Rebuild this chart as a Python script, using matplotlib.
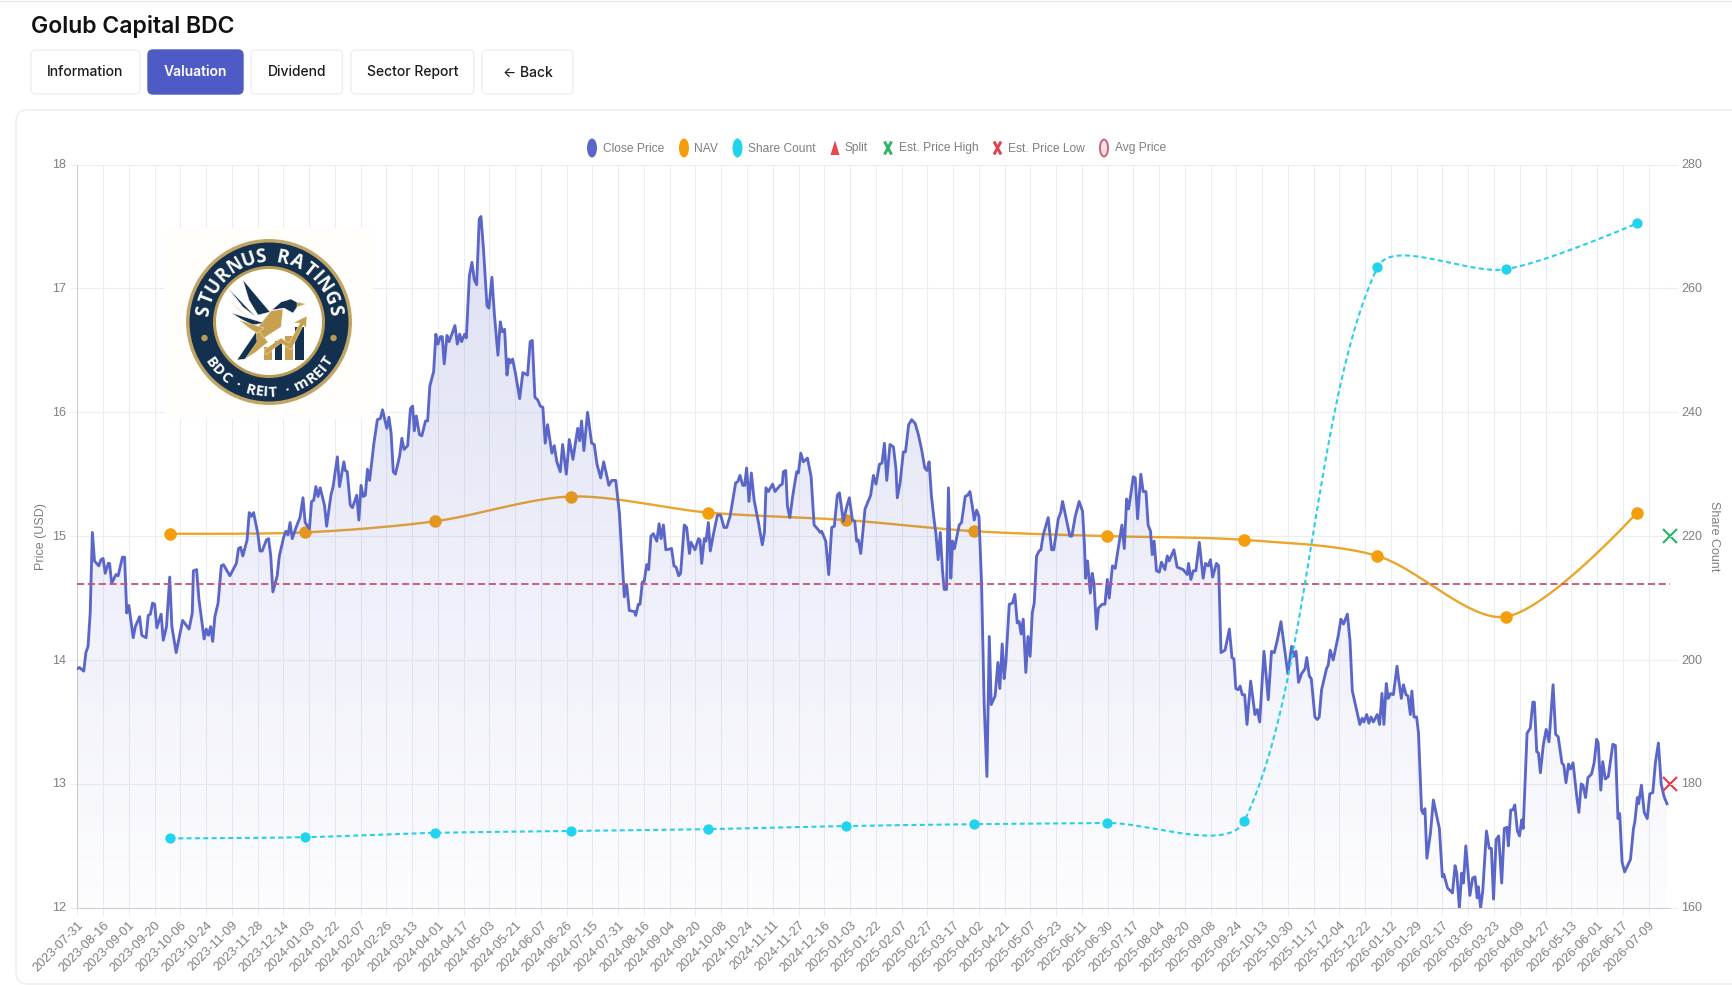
import numpy as np
import matplotlib
matplotlib.use("Agg")
import matplotlib.pyplot as plt
from matplotlib.patches import FancyBboxPatch, Ellipse, Circle, Polygon, Rectangle
from matplotlib.colors import to_rgb
from matplotlib.font_manager import FontProperties
from matplotlib.textpath import TextPath
from matplotlib.transforms import ScaledTranslation

# trading day position on the category axis / close price in USD
close_idx = [
    0, 1, 3, 4, 5, 6, 7, 8, 10, 11, 12, 13, 14.4, 15, 16, 18, 19, 21, 22, 23, 24, 26, 27, 29, 30, 32, 33, 34, 35, 36,
    37, 39, 40, 41.5, 43, 44, 46, 49, 52, 53.5, 54, 55.5, 56.6, 58, 59, 60, 61, 62, 63, 64, 65.5, 67, 68, 71, 74, 75,
    76, 77, 79, 80, 81, 82, 84, 85, 86, 88, 89, 90, 91, 93, 94, 96, 97, 98, 99, 100, 102, 103.6, 105, 106, 108, 109,
    110, 111, 112, 113, 115, 116, 118, 119, 121, 122, 124, 124.7, 125.6, 127, 128, 130, 131, 132, 133, 134, 135, 136,
    138, 139.6, 141, 142, 144, 145, 146, 147, 148,
    150, 151, 152, 153.7, 155, 156, 156.8, 157.7, 159.2, 160.3, 162, 163, 164, 165.8, 166.8, 167.8, 168.9, 169.8,
    170.7, 172, 173, 175.7, 176.8, 177.9, 178.8, 180.2, 181, 182.4, 183.6, 184.7, 185.8, 187, 187.8, 189, 190.6,
    191.5, 192.9, 194, 195.7, 196.8, 197.7, 198.8, 199.9, 200.8, 201.6, 202.5, 203.8, 205.8, 207.3, 209.5, 210.7,
    211.7, 212.9, 214.2, 215.4, 216.6, 217.7, 218.8, 220.8, 221.9, 223.1, 224.7, 225.8, 227.5, 228.9, 230.6, 232.8,
    233.7, 234.6, 235.7, 237.4, 239.3, 240.5, 241.8, 243.5, 244.9, 247.3, 248.7, 250.5,
    252.2, 253.3, 254.5, 255.6, 256.8, 259.3, 259.8, 261, 261.8, 262.9, 263.7, 264.9, 265.8, 266.9, 268, 269.6,
    270.7, 271.6, 272.7, 273.8, 276.5, 277.6, 278.6, 279.8, 280.7, 282.4, 283.5, 284.8, 285.5, 287.4, 289, 289.7,
    290.5, 291.7, 292.5, 293.6, 294.5, 295.9, 297.8, 299.3, 300.9, 302.1, 303.7, 306.3, 307.3, 308.3, 309.6, 310.5,
    311.4, 312.5, 313.6, 314.9, 316.9, 318.7, 319.7, 320.4, 321.5, 323.5, 324.6, 327, 328, 328.5, 329.6, 330.4,
    331.5, 332.9, 334.7, 335.5, 336.6, 337.8, 339.7, 341.4, 342.8, 344.8, 345.6, 346.3, 348.2, 349.6, 351, 352.2,
    353.6, 354.6, 356.4, 358, 359.2, 360.6, 361.7, 362.6, 363.4, 364.5, 366.5, 369.1, 370.4, 371.6, 373.2, 374.4,
    375.5, 376.6, 378.1, 379.7, 380.9, 381.5, 382.8, 384.3, 385.3, 386.8, 388.2, 389.8, 391.3, 392.8,
    394.3, 395.3, 396.3, 397.4, 398.7, 399.4, 400.5, 401.5, 402.5, 403.3, 404.4, 405.3, 406.4, 407.2, 408.1, 410.3,
    411.4, 413.1, 414.2, 415.3, 416.5, 417.3, 418.4, 419.5, 420.7, 421.9, 423.2, 424.3, 425.2, 427, 428.3, 429.2,
    430.3, 431.2, 432, 433.6, 435.1, 436.2, 437.3, 438.2, 439.1, 440.1, 441.3, 442.3, 443.3, 444.3, 445.2, 446.3,
    447.5, 448.3, 449.4, 451.7, 453.3, 454.3, 456.4, 457.5, 458.4, 460.2, 461.8, 462.7, 464.3, 466.1, 467.7, 468.6,
    469.1, 470, 471.3, 472.2, 473, 474.2, 475.1, 476.8, 478.1, 479.2, 480.1, 481.6, 482.9, 484.1, 486, 487.1, 488.2,
    489.1, 490, 491.3, 492.2, 493.3, 494.8, 495.9, 497.2, 498.2, 499.3, 500.1, 501, 502.1, 503.4, 504.4, 506, 507.1,
    508, 510.2, 511.7, 514.5, 516.4, 517, 518.1, 519.2, 520.4, 522, 523.8, 524.9, 526.2, 527.2, 528.2, 530, 531,
    532.1, 534, 536, 537.2, 538.1, 539, 540.1, 541, 542, 543.1, 544.2, 545.9, 547.9, 549, 550.1, 552.1, 554.1, 555.6,
    556.9, 558.3, 560, 561.5, 563.2, 565, 565.9, 567, 568.2, 569.6, 571.2, 572, 573.2, 574.1, 575.8, 576.9, 577.8,
    578.9, 581.2, 582, 582.9, 584.3, 586.7, 587.9, 589.1, 590.9, 592.1, 593.2, 596.7, 597.8, 598.6, 599.9, 600.9,
    601.9, 603, 604.8, 605.9, 607, 607.9, 609, 609.9, 611, 612.3, 614, 614.7, 616, 617, 618.2, 619.1, 620.2, 620.9,
    621.9, 623.1, 624, 625.4, 626.2, 627, 627.9, 629.6, 630.9, 633.7, 635.1,
    635.8, 637.5, 639.8, 641, 641.8, 643, 644.1, 644.9, 646, 647.9, 649.2, 650.3, 651.3, 651.8, 652.9, 653.9, 655.6,
    656.9, 657.9, 658.9, 660.1, 661.3, 662.7, 663.9, 665.1, 665.8, 666.9, 667.9, 668.8, 670, 671, 672, 672.7, 674.5,
    676, 677.2, 677.9, 679, 679.8, 680.7, 682.1, 683.4, 684.7, 686.6, 687.8, 689, 690.7, 691.6, 692.6, 693.8, 694.7,
    695.9, 697.6, 698.6, 699.7, 700.5, 701.7, 702.8, 704.5, 705.7, 706.9, 707.6, 708.8, 709.7, 710.9, 712.3, 714.4,
    715.6, 716.8, 717.6, 718.7, 719.9, 722.6, 724, 724.7, 725.8, 726.4, 727.7, 729, 730.4, 731.6, 733, 734.2, 735.6,
    736.9, 738.2, 739.6,
]
close_price = [
    13.93, 13.94, 13.91, 14.06, 14.11, 14.38, 15.03, 14.80, 14.76, 14.81, 14.82, 14.70, 14.78, 14.78, 14.62, 14.69,
    14.68, 14.83, 14.83, 14.38, 14.44, 14.18, 14.27, 14.35, 14.20, 14.18, 14.36, 14.37, 14.46, 14.45,
    14.26, 14.37, 14.16, 14.27, 14.67, 14.27, 14.06, 14.32, 14.25, 14.38, 14.72, 14.73, 14.49, 14.30, 14.17, 14.25,
    14.20, 14.27, 14.15, 14.35, 14.46, 14.76, 14.77, 14.68, 14.78, 14.90,
    14.91, 14.84, 14.97, 15.19, 15.16, 15.19, 15.02, 14.88, 14.88, 14.97, 14.98, 14.84, 14.55, 14.68, 14.84, 14.99,
    15.04, 15.01, 15.11, 14.98, 15.08, 15.15, 15.31, 15.11, 15.06, 15.28,
    15.29, 15.40, 15.32, 15.39, 15.25, 15.08, 15.33, 15.40, 15.64, 15.40, 15.60, 15.53, 15.52, 15.25, 15.23, 15.33,
    15.13, 15.41, 15.32, 15.33, 15.54, 15.45,
    15.75, 15.94, 15.95, 16.02, 15.87, 15.96, 15.83, 15.52, 15.50,
    15.65, 15.79, 15.70, 15.73, 16.03, 16.05, 15.85, 15.97, 15.82, 15.81, 15.93, 15.93, 16.21, 16.33, 16.63, 16.55,
    16.61, 16.61,
    16.39, 16.62, 16.57, 16.70, 16.55, 16.63, 16.57, 16.63, 16.60, 17.10, 17.21, 17.07, 17.03, 17.56, 17.58, 17.31,
    16.86, 16.84, 17.09, 16.80, 16.46, 16.73, 16.65, 16.67, 16.30, 16.43, 16.40, 16.43, 16.32, 16.11, 16.32, 16.30,
    16.57, 16.58, 16.12, 16.10, 16.05, 16.04, 15.75, 15.90, 15.67, 15.73, 15.60, 15.52, 15.74, 15.50, 15.78, 15.62,
    15.87, 15.77, 15.93, 15.69, 16.00, 15.75, 15.74, 15.58, 15.47, 15.60, 15.41, 15.45, 15.45,
    15.19, 14.86, 14.51, 14.61, 14.40, 14.39, 14.36, 14.45, 14.45, 14.63, 14.63, 14.77, 14.73, 15.00, 15.02, 14.96,
    15.10, 14.98, 15.09, 14.89, 14.90, 14.76, 14.75, 14.68, 14.70, 15.09, 15.07, 14.86, 14.95, 14.89, 14.98, 14.97,
    14.78, 14.98, 14.96, 15.11, 14.88, 15.01, 15.17, 15.17, 15.07, 15.07, 15.16, 15.43, 15.44, 15.49, 15.41, 15.41,
    15.55, 15.28, 15.51, 15.29, 15.11, 14.93, 15.03, 15.39, 15.36, 15.42, 15.36, 15.41, 15.42, 15.52, 15.53, 15.24,
    15.15, 15.33, 15.52, 15.51, 15.67, 15.60, 15.63, 15.48, 15.09, 15.05, 15.03, 15.04, 14.96, 14.69, 15.07, 15.08,
    15.33, 15.35, 15.12, 15.24, 15.31, 15.13, 15.12, 14.96, 14.97, 14.86, 15.22, 15.33, 15.49, 15.42, 15.58, 15.59,
    15.75, 15.45, 15.74, 15.72, 15.54, 15.31, 15.43, 15.68, 15.68, 15.90, 15.94, 15.91, 15.82, 15.70,
    15.55, 15.53, 15.60, 15.32, 15.12, 15.03, 14.81, 15.03, 14.73, 14.57, 14.57, 15.39, 14.66, 14.96, 14.90, 15.09,
    15.11, 15.32, 15.33, 15.36, 15.23, 15.13, 15.21, 15.16, 14.62, 13.65, 13.06, 14.19, 13.64, 13.71, 13.98, 13.77,
    14.13, 13.85, 13.98, 14.45, 14.46, 14.53, 14.30, 14.31, 14.21, 14.33, 13.90, 14.19, 14.03, 14.38, 14.46, 14.84,
    14.88, 14.89, 15.01, 15.15, 14.89, 14.89, 15.14, 15.19, 15.28, 15.13, 15.00, 15.00, 15.16, 15.28, 15.20, 14.92,
    14.66, 14.80, 14.54, 14.70, 14.62, 14.25, 14.42, 14.45, 14.45, 14.65, 14.50, 14.76, 14.74, 14.88, 15.09, 14.90,
    15.30, 15.22, 15.32, 15.48, 15.47, 15.14, 15.50, 15.36, 15.36, 15.09, 15.04, 14.85, 14.96, 14.72, 14.71, 14.79,
    14.73, 14.84,
    14.80, 14.89, 14.75, 14.73, 14.69, 14.78, 14.65, 14.72, 14.72, 14.95, 14.66, 14.78, 14.76, 14.81, 14.67, 14.78,
    14.76,
    14.06, 14.08, 14.25, 14.02, 14.01, 13.77, 13.76, 13.79, 13.72, 13.72, 13.48, 13.83, 13.56, 13.60, 13.50, 14.07,
    13.68, 14.07,
    14.06, 14.16, 14.31, 14.11, 13.89, 14.11, 14.03, 14.07, 13.82, 13.89, 13.93, 14.02, 13.87, 13.85, 13.54, 13.52,
    13.54,
    13.76, 13.93, 13.96, 14.08, 14.00, 14.20, 14.33, 14.29, 14.37, 14.16, 13.75, 13.48, 13.53, 13.50, 13.56, 13.49,
    13.54, 13.50, 13.56, 13.48, 13.73, 13.48, 13.81, 13.69, 13.73, 13.72, 13.95, 13.85, 13.69, 13.80, 13.72, 13.71,
    13.56, 13.75,
    13.54, 13.54, 13.41, 12.79, 12.76, 12.80, 12.40, 12.61, 12.87, 12.64, 12.25,
    12.27, 12.16, 12.12, 12.34, 12.28, 12.00, 12.28, 12.20, 12.50, 12.10, 12.24, 12.25, 12.08, 12.17, 12.00, 12.14,
    12.62,
    12.48, 12.48, 12.07, 12.55, 12.58, 12.20, 12.64, 12.65, 12.50, 12.79, 12.79, 12.83, 12.62, 12.58, 12.71, 12.64,
    13.41,
    13.45, 13.66, 13.66, 13.26, 13.25, 13.09, 13.32, 13.44, 13.34, 13.80, 13.40, 13.38, 13.17, 13.15, 13.01, 13.16,
    13.12,
    13.17, 12.90, 12.77, 13.00, 12.99, 12.89, 13.05, 13.08, 13.17, 13.36, 13.33, 12.95, 13.18, 13.04, 13.06, 13.32,
    13.31, 12.72, 12.76, 12.37, 12.29, 12.39, 12.64, 12.70, 12.89, 12.84, 12.99, 12.77, 12.72, 12.92, 12.93, 13.17,
    13.33,
    13.00, 12.90, 12.84,
]

nav_idx = [43.1, 105.9, 166.5, 229.7, 293.6, 357.5, 417.1, 479.2, 543, 604.9, 664.8, 725.7]
nav_value = [15.02, 15.03, 15.12, 15.32, 15.19, 15.13, 15.04, 15.00, 14.97, 14.84, 14.35, 15.19]
share_count = [171.2, 171.4, 172.1, 172.4, 172.7, 173.2, 173.5, 173.7, 174.05, 263.4, 263.1, 270.5]

avg_price = 14.61
est_high = 15.0
est_low = 13.0

date_labels = [
    "2023-07-31", "2023-08-16", "2023-09-01", "2023-09-20", "2023-10-06", "2023-10-24", "2023-11-09", "2023-11-28",
    "2023-12-14", "2024-01-03", "2024-01-22", "2024-02-07", "2024-02-26", "2024-03-13", "2024-04-01", "2024-04-17",
    "2024-05-03", "2024-05-21", "2024-06-07", "2024-06-26", "2024-07-15", "2024-07-31", "2024-08-16", "2024-09-04",
    "2024-09-20", "2024-10-08", "2024-10-24", "2024-11-11", "2024-11-27", "2024-12-16", "2025-01-03", "2025-01-22",
    "2025-02-07", "2025-02-27", "2025-03-17", "2025-04-02", "2025-04-21", "2025-05-07", "2025-05-23", "2025-06-11",
    "2025-06-30", "2025-07-17", "2025-08-04", "2025-08-20", "2025-09-08", "2025-09-24", "2025-10-13", "2025-10-30",
    "2025-11-17", "2025-12-04", "2025-12-22", "2026-01-12", "2026-01-29", "2026-02-17", "2026-03-05", "2026-03-23",
    "2026-04-09", "2026-04-27", "2026-05-13", "2026-06-01", "2026-06-17", "2026-07-09",
]
price_ticks = [12, 13, 14, 15, 16, 17, 18]
share_ticks = [160, 180, 200, 220, 240, 260, 280]
button_labels = ["Information", "Valuation", "Dividend", "Sector Report", "\u2190 Back"]
legend_labels = ["Close Price", "NAV", "Share Count", "Split", "Est. Price High", "Est. Price Low", "Avg Price"]

W, H = 1732, 985
BLUE = "#5b66c9"
ORANGE = "#f59e0b"
CYAN = "#22d3ee"
GRAY = "#7f7f7f"
GRID = "#ecedf1"
NAVY = "#14304f"
GOLD = "#b99a55"

plt.rcParams["font.family"] = ["Liberation Sans", "DejaVu Sans"]
plt.rcParams["lines.scale_dashes"] = False

fig = plt.figure(figsize=(W / 100, H / 100), dpi=100, facecolor="white")


def px_axes(zorder):
    a = fig.add_axes([0, 0, 1, 1], zorder=zorder)
    a.set_xlim(0, W)
    a.set_ylim(H, 0)
    a.axis("off")
    a.patch.set_alpha(0)
    return a


# page furniture
back = px_axes(0)
back.plot([0, W], [0.5, 0.5], color="#e8e8e8", lw=1)
back.add_patch(FancyBboxPatch((16, 110), W + 40, 874, boxstyle="round,pad=0,rounding_size=12",
                              fc="white", ec="#ececec", lw=1))
back.text(31, 33.5, "Golub Capital BDC", family="Inter", weight="semibold", fontsize=16.6, color="#111111",
          va="baseline", ha="left")
btn_left = [31, 148, 251, 351, 482]
btn_right = [140, 243, 342.5, 474, 573]
for i, lab in enumerate(button_labels):
    on = lab == "Valuation"
    back.add_patch(FancyBboxPatch((btn_left[i], 50), btn_right[i] - btn_left[i], 44,
                                  boxstyle="round,pad=0,rounding_size=5", fc="#4f5bc4" if on else "white",
                                  ec="#4f5bc4" if on else "#efefef", lw=1))
    back.text((btn_left[i] + btn_right[i]) / 2, 76 if i < 4 else 77, lab, family=["Inter", "DejaVu Sans"],
              weight="semibold" if on else "medium", fontsize=10, color="white" if on else "#1c1c1c",
              ha="center", va="baseline")

# legend row
leg_y = 148
for x, c in [(592, "#5b66c9"), (684, ORANGE), (737.5, CYAN)]:
    back.add_patch(Ellipse((x, leg_y), 10, 19, fc=c, ec="none"))
back.add_patch(Polygon([[835, 140.5], [839.5, 155], [830.5, 155]], fc="#e5484d", ec="none"))
for x, c in [(888, "#2fb56a"), (997.5, "#dd4450")]:
    back.plot([x - 3.5, x + 3.5], [leg_y - 6.5, leg_y + 6.5], color=c, lw=2.1, solid_capstyle="butt")
    back.plot([x - 3.5, x + 3.5], [leg_y + 6.5, leg_y - 6.5], color=c, lw=2.1, solid_capstyle="butt")
back.add_patch(Ellipse((1104, leg_y), 8, 17, fc="#f3e3e6", ec="#d2566f", lw=1.3))
for x, lab in zip([603, 694, 748, 845, 899, 1008, 1115], legend_labels):
    back.text(x, leg_y + 0.5, lab, color=GRAY, fontsize=8.65, ha="left", va="center")

# chart
ax_top, ax_bot = 164.5, 907.8
ax = fig.add_axes([77.3 / W, 1 - ax_bot / H, 1592.7 / W, (ax_bot - ax_top) / H], zorder=1)
ax.patch.set_alpha(0)
ax2 = ax.twinx()
ax2.set_zorder(2)
ax2.patch.set_alpha(0)

x_stretch = 742 / 741
x_close = np.array(close_idx) * x_stretch
y_close = np.array(close_price)
ax.set_xlim(0, 742)
ax.set_ylim(12, 18)
ax2.set_ylim(160, 280)

ax.set_xticks(np.arange(len(date_labels)) * 12)
ax.set_xticklabels(date_labels, rotation=45, ha="right", rotation_mode="anchor", fontsize=9.2, color=GRAY)
ax.set_yticks(price_ticks)
ax.set_yticklabels(price_ticks, fontsize=9, color=GRAY)
ax2.set_yticks(share_ticks)
ax2.set_yticklabels(share_ticks, fontsize=9, color=GRAY)
ax.tick_params(axis="x", length=5, width=0.8, color=GRID, pad=3)
ax.tick_params(axis="y", length=5, width=0.8, color=GRID, pad=3)
ax2.tick_params(axis="y", length=5, width=0.8, color=GRID, pad=3)
lift = ScaledTranslation(0, 1 / 100, fig.dpi_scale_trans)
for lbl in ax.get_yticklabels() + ax2.get_yticklabels():
    lbl.set_transform(lbl.get_transform() + lift)
ax.grid(True, color=GRID, lw=0.8, zorder=0)
ax.set_axisbelow(True)
ax.axvline(742, color=GRID, lw=0.8, zorder=0)
for s in ["top", "right"]:
    ax.spines[s].set_visible(False)
    ax2.spines[s].set_visible(False)
for a in [ax, ax2]:
    a.spines["left"].set_color("#cfcfcf")
    a.spines["bottom"].set_color("#cfcfcf")
ax2.spines["left"].set_visible(False)
ax2.spines["bottom"].set_visible(False)
ax.set_ylabel("Price (USD)", fontsize=9, color=GRAY, va="center")
ax.yaxis.set_label_coords((41 - 77.3) / 1592.7, 0.5)
ax2.set_ylabel("Share Count", fontsize=9, color=GRAY, rotation=270, va="center")
ax2.yaxis.set_label_coords((1714 - 77.3) / 1592.7, 0.5)


def smooth_curve(xs, ys, a, k=0.3):
    # bezier through the points, control arms split by on-screen segment length
    p = a.transData.transform(np.column_stack([xs, ys]))
    out = []
    for i in range(len(p) - 1):
        p0, p3 = p[i], p[i + 1]
        if i == 0:
            c1 = p0
        else:
            l0 = np.hypot(*(p[i] - p[i - 1]))
            l1 = np.hypot(*(p[i + 1] - p[i]))
            c1 = p0 + (p[i + 1] - p[i - 1]) * k * l1 / (l0 + l1)
        if i == len(p) - 2:
            c2 = p3
        else:
            l0 = np.hypot(*(p[i + 1] - p[i]))
            l1 = np.hypot(*(p[i + 2] - p[i + 1]))
            c2 = p3 - (p[i + 2] - p[i]) * k * l0 / (l0 + l1)
        t = np.linspace(0, 1, 40)[:, None]
        out.append((1 - t) ** 3 * p0 + 3 * (1 - t) ** 2 * t * c1 + 3 * (1 - t) * t ** 2 * c2 + t ** 3 * p3)
    return a.transData.inverted().transform(np.vstack(out))


x_nav = np.array(nav_idx) * x_stretch
nav_curve = smooth_curve(x_nav, nav_value, ax)
ax.plot(nav_curve[:, 0], nav_curve[:, 1], color="#eaa52b", lw=1.7, zorder=2, solid_capstyle="round")
ax.plot(x_nav, nav_value, "o", color=ORANGE, ms=9, mew=0, zorder=2)

# gradient under the close line
rgb = to_rgb("#5b65c8")
alpha = np.linspace(0.2, 0.015, 256)
grad = np.zeros((256, 1, 4))
grad[:, 0, :3] = rgb
grad[:, 0, 3] = alpha
im = ax.imshow(grad, extent=[0, 742, 12, y_close.max()], origin="upper", aspect="auto", zorder=3,
               interpolation="bilinear")
poly = Polygon(np.vstack([[x_close[0], 12], np.column_stack([x_close, y_close]), [x_close[-1], 12]]),
               transform=ax.transData, fc="none", ec="none")
ax.add_patch(poly)
im.set_clip_path(poly)
ax.set_xlim(0, 742)
ax.set_ylim(12, 18)
ax.plot(x_close, y_close, color=BLUE, lw=2.05, zorder=4, solid_joinstyle="round")

ax.plot([0, 742], [avg_price, avg_price], color="#c2557c", lw=1.3, dashes=(5.2, 2.6), zorder=5)
ax.plot([742], [est_high], marker="x", color="#2fb56a", ms=10.5, mew=1.6, clip_on=False, zorder=6)
ax.plot([742], [est_low], marker="x", color="#e0454f", ms=10.5, mew=1.6, clip_on=False, zorder=6)

share_curve = smooth_curve(x_nav, share_count, ax2)
ax2.plot(share_curve[:, 0], share_curve[:, 1], color="#27cfe9", lw=1.5, dashes=(3.6, 2.4), zorder=3)
ax2.plot(x_nav, share_count, "o", color=CYAN, ms=7.4, mew=0, zorder=4)
ax2.set_xlim(0, 742)

# logo badge on top of the chart
logo = px_axes(3)
logo.add_patch(Rectangle((165, 228), 208, 191, fc="#fffefb", ec="none"))
cx, cy = 269, 322
logo.add_patch(Circle((cx, cy), 83, fc="#c1a566", ec="none"))
logo.add_patch(Circle((cx, cy), 79.5, fc=NAVY, ec="none"))
logo.add_patch(Circle((cx, cy), 56, fc=GOLD, ec="none"))
logo.add_patch(Circle((cx, cy), 53, fc="white", ec="none"))


def arc_text(s, r, start, end, size, weight):
    # letters set along a circle, spaced so the string fills start..end degrees
    prop = FontProperties(family="Open Sans", weight=weight)
    px = size * 100 / 72
    widths = []
    for ch in s:
        widths.append(px * 0.3 if ch == " " else TextPath((0, 0), ch, size=px, prop=prop).get_extents().width)
    direction = 1 if end > start else -1
    span = np.radians(abs(end - start)) * r
    gap = (span - sum(widths) + widths[0] / 2 + widths[-1] / 2) / (len(s) - 1)
    pos = -widths[0] / 2
    for ch, w in zip(s, widths):
        ang = np.radians(start) + direction * (pos + w / 2) / r
        pos += w + gap
        x = cx + r * np.sin(ang)
        y = cy - r * np.cos(ang)
        rot = -np.degrees(ang) if direction > 0 else 180 - np.degrees(ang)
        logo.text(x, y, ch, color="white", fontsize=size, weight=weight, family="Open Sans", rotation=rot,
                  rotation_mode="anchor", ha="center", va="baseline")


arc_text("STURNUS RATINGS", 60.5, -80, 80, 13.4, "bold")
arc_text("BDC \u00b7 REIT \u00b7 mREIT", 74.5, 235, 124, 10.6, "bold")
for dx in (-64.5, 64.5):
    logo.add_patch(Circle((cx + dx, cy + 16), 3.2, fc=GOLD, ec="none"))

# bird, arrow and bars
bars = [
    (264, 347, 272, "#c7a14f"),
    (275, 341, 282, NAVY),
    (285, 336, 293, "#c7a14f"),
    (295, 327, 304, NAVY),
]
for x0, y0, x1, c in bars:
    logo.add_patch(Rectangle((x0, y0), x1 - x0, 359.5 - y0, fc=c, ec="none"))
bird_parts = [
    ("#c7a14f", [(264, 350), (281, 338), (289, 343), (300, 323), (293, 323), (307, 316), (306, 328), (303.5, 325),
                 (291, 350), (281, 343), (266, 355)]),
    ("#c7a14f", [(245, 359), (257, 328), (268, 342), (256, 352)]),
    (NAVY, [(237, 360), (256, 332), (257, 342), (245, 359)]),
    ("#c7a14f", [(271, 311), (283, 309), (281, 327), (264, 338), (257, 328)]),
    (NAVY, [(243, 280), (270, 312), (258, 315), (249, 300)]),
    (NAVY, [(228, 288), (256, 317), (243, 307)]),
    ("#c7a14f", [(226.6, 298), (254.5, 323), (239, 310)]),
    (NAVY, [(231.5, 313), (264, 323), (252.6, 325), (241, 319)]),
    ("#c7a14f", [(239, 320), (264, 328), (257, 333), (249, 328)]),
    (NAVY, [(272, 310), (281, 302), (291, 299), (298, 303), (297, 307), (293, 313), (284, 308)]),
    ("#c7a14f", [(297, 302), (306, 304), (297, 307)]),
]
for c, part in bird_parts:
    logo.add_patch(Polygon(part, fc=c, ec="white", lw=0.25))

fig.savefig("out.png", dpi=100)
